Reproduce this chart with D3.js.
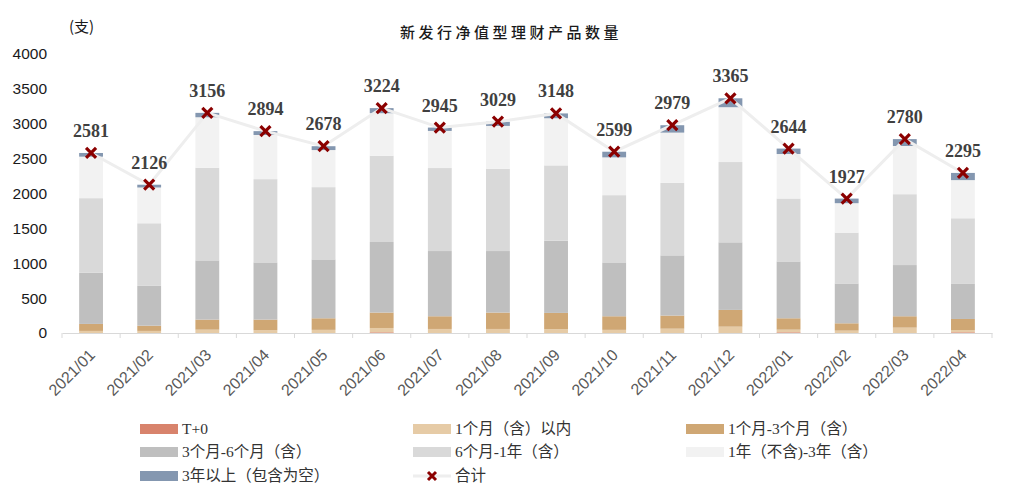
<!DOCTYPE html>
<html><head><meta charset="utf-8">
<script src="https://cdn.jsdelivr.net/npm/d3@7"></script>
<style>body{margin:0;background:#fff;}svg{display:block;}</style>
</head><body>
<script>
const categories = ["2021/01","2021/02","2021/03","2021/04","2021/05","2021/06","2021/07","2021/08","2021/09","2021/10","2021/11","2021/12","2022/01","2022/02","2022/03","2022/04"];
const seriesNames = ["T+0","1个月（含）以内","1个月-3个月（含）","3个月-6个月（含）","6个月-1年（含）","1年（不含)-3年（含）","3年以上（包含为空）"];
const t0      = [0,0,0,0,0,10,0,0,0,0,0,0,10,0,0,10];
const m1      = [30,30,48,40,45,62,58,58,55,45,62,91,38,34,77,33];
const m1to3   = [100,75,144,152,166,221,182,235,233,195,188,240,163,105,163,158];
const m3to6   = [733,571,849,820,844,1012,935,882,1036,772,863,969,815,571,734,509];
const m6to1y  = [1070,897,1328,1194,1036,1237,1190,1180,1079,964,1040,1151,902,729,1016,935];
const y1to3   = [595,513,724,633,532,609,532,614,676,542,720,786,638,422,691,547];
const y3plus  = [53,40,63,55,55,73,48,60,69,81,106,128,78,66,99,103];
const totals  = [2581,2126,3156,2894,2678,3224,2945,3029,3148,2599,2979,3365,2644,1927,2780,2295];
const yTicks  = [0,500,1000,1500,2000,2500,3000,3500,4000];
const colors  = ["#d8836c","#e6cba6","#cfa774","#bfbfbf","#d9d9d9","#f2f2f2","#8497b0"];

const W=1014,H=495;
const svg=d3.select("body").append("svg").attr("width",W).attr("height",H);
const x=d3.scaleBand().domain(categories).range([62,992]).paddingInner(0.59).paddingOuter(0.295);
const y=d3.scaleLinear().domain([0,4000]).range([333,54]);

const seriesArr=[t0,m1,m1to3,m3to6,m6to1y,y1to3,y3plus];
const table=categories.map((c,i)=>{const o={cat:c};seriesNames.forEach((s,k)=>o[s]=seriesArr[k][i]);return o;});
const stack=d3.stack().keys(seriesNames)(table);

// y axis labels
const yAxis=svg.append("g").attr("transform","translate(47,0)")
  .call(d3.axisLeft(y).tickValues(yTicks).tickFormat(d3.format("d")).tickSize(0).tickPadding(0));
yAxis.select(".domain").remove();
yAxis.selectAll("text").attr("font-family","Liberation Sans, Arial").attr("font-size",15.5).attr("fill","#1a1a1a");

// bars
svg.append("g").selectAll("g").data(stack).join("g").attr("fill",(d,i)=>colors[i])
  .selectAll("rect").data(d=>d).join("rect")
  .attr("x",d=>x(d.data.cat)).attr("width",x.bandwidth())
  .attr("y",d=>y(d[1])).attr("height",d=>Math.max(0,y(d[0])-y(d[1])));

// x axis
const xb=d3.scaleBand().domain(categories).range([62,992]);
const xAxis=svg.append("g").attr("transform","translate(0,333)")
  .call(d3.axisBottom(xb).tickSize(0).tickPadding(0));
xAxis.select(".domain").attr("stroke","#d9d9d9");
xAxis.selectAll(".tick line").remove();
svg.append("g").selectAll("line").data(d3.range(17)).join("line")
  .attr("x1",i=>62+i*xb.step()).attr("x2",i=>62+i*xb.step())
  .attr("y1",333).attr("y2",338).attr("stroke","#d9d9d9");
xAxis.selectAll("text").attr("font-family","Liberation Sans, Arial").attr("font-size",16).attr("fill","#595959")
  .attr("text-anchor","end").attr("transform","translate(1,19) rotate(-45)").attr("dy","0.35em").attr("y",0);

// total line
const cx=d=>x(d)+x.bandwidth()/2;
svg.append("path").datum(totals).attr("fill","none").attr("stroke","#eeeeee").attr("stroke-width",3)
  .attr("d",d3.line().x((d,i)=>cx(categories[i])).y(d=>y(d)));
const mk=svg.append("g").selectAll("g").data(totals).join("g")
  .attr("transform",(d,i)=>`translate(${cx(categories[i])},${y(d)})`);
mk.append("path").attr("d","M-5,-5L5,5M-5,5L5,-5").attr("stroke","#8b0000").attr("stroke-width",3.2).attr("fill","none");

// data labels
svg.append("g").selectAll("text").data(totals).join("text")
  .attr("x",(d,i)=>cx(categories[i])).attr("y",d=>y(d)-16)
  .attr("text-anchor","middle").attr("font-family","Liberation Serif, Times New Roman, serif")
  .attr("font-weight","bold").attr("font-size",18).attr("fill","#404040").text(d=>d);

// title
svg.append("text").attr("x",511).attr("y",38).attr("text-anchor","middle")
  .attr("font-family","Noto Sans CJK SC").attr("font-size",15).attr("font-weight",500).attr("letter-spacing","3.5px")
  .attr("fill","#1a1a1a").text("新发行净值型理财产品数量");
svg.append("text").attr("x",69).attr("y",32).attr("font-family","Noto Sans CJK SC")
  .attr("font-size",15).attr("fill","#1a1a1a").text("(支)");

// legend
const legItems=[0,1,2,3,4,5,6,7];
const legNames=seriesNames.concat(["合计"]);
const colX=[140,413,686], rowY=[429,452,476];
const lg=svg.append("g").selectAll("g").data(legItems).join("g")
  .attr("transform",i=>`translate(${colX[i%3]},${rowY[Math.floor(i/3)]})`);
lg.filter(i=>i<7).append("rect").attr("x",0).attr("y",-5).attr("width",38).attr("height",10).attr("fill",i=>colors[i]);
const tot=lg.filter(i=>i===7);
tot.append("line").attr("x1",0).attr("x2",38).attr("stroke","#eeeeee").attr("stroke-width",3);
tot.append("path").attr("transform","translate(19,0)").attr("d","M-4,-4L4,4M-4,4L4,-4").attr("stroke","#8b0000").attr("stroke-width",3);
lg.append("text").attr("x",42).attr("y",0).attr("dy","0.35em")
  .attr("font-family","Liberation Serif, 'Noto Sans CJK SC'").attr("font-size",15.5).attr("fill","#333333")
  .text(i=>legNames[i]);
</script>
</body></html>
